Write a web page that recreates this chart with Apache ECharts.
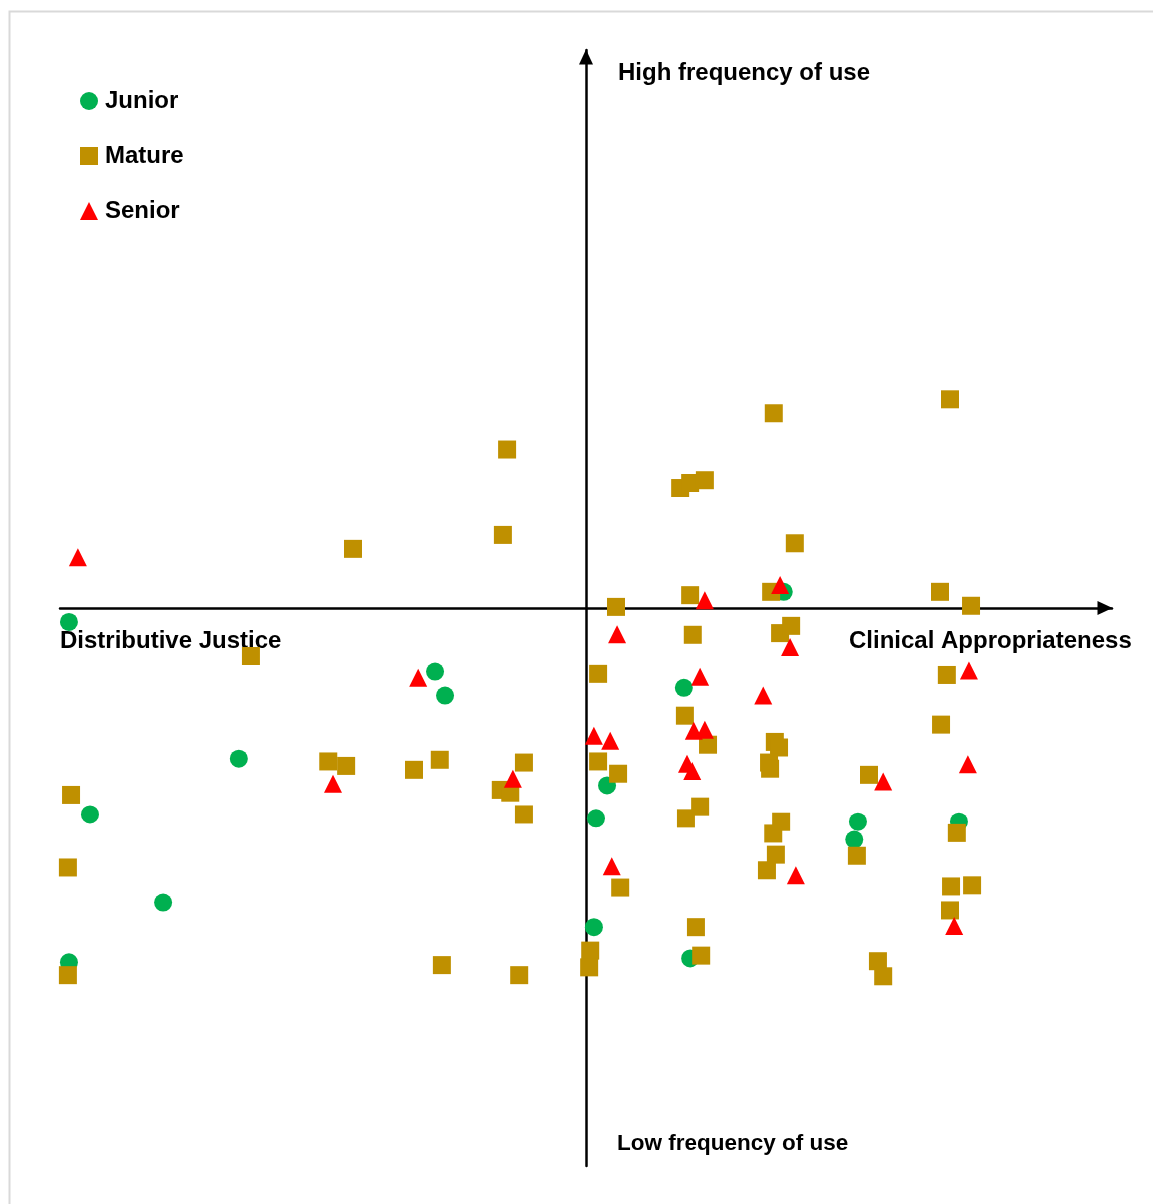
<!DOCTYPE html>
<html>
<head>
<meta charset="utf-8">
<script src="https://cdn.jsdelivr.net/npm/echarts@6/dist/echarts.min.js"></script>
<style>
html,body{margin:0;padding:0;background:#fff;}
#chart{width:1153px;height:1204px;}
</style>
</head>
<body>
<div id="chart"></div>
<script>
// Values in arbitrary units: x = Distributive Justice (-) ... Clinical Appropriateness (+)
// y = Low (-) ... High (+) frequency of use
const seriesNames = ['Junior', 'Mature', 'Senior'];

const juniorPoints = [
  [-98.3, -2.5], [-28.7, -11.4], [-26.8, -15.7], [-66.0, -27.0], [-94.3, -37.0],
  [-80.4, -52.8], [-98.3, -63.5], [37.6, 2.9], [18.6, -14.3], [4.0, -31.8],
  [1.9, -37.7], [1.5, -57.2], [19.8, -62.8], [51.7, -38.3], [51.0, -41.5],
  [70.9, -38.3]
];

const maturePoints = [
  [-15.0, 28.4], [-44.3, 10.6], [-15.8, 13.1], [35.7, 34.9], [69.2, 37.4],
  [17.9, 21.5], [19.8, 22.4], [22.6, 22.9], [39.7, 11.6], [5.7, 0.2],
  [19.8, 2.3], [35.2, 2.9], [67.3, 2.9], [73.2, 0.4], [20.3, -4.8],
  [36.9, -4.5], [39.0, -3.2], [-63.7, -8.6], [2.3, -11.8], [68.6, -12.0],
  [18.8, -19.3], [67.5, -20.9], [23.2, -24.5], [35.9, -24.0], [36.7, -25.0],
  [-49.0, -27.5], [-45.6, -28.3], [-32.7, -29.0], [-27.8, -27.2], [-11.8, -27.7],
  [2.3, -27.5], [6.1, -29.7], [34.8, -27.7], [35.0, -28.8], [53.8, -29.9],
  [-97.9, -33.5], [-16.2, -32.6], [-14.4, -33.1], [-11.8, -37.0], [21.7, -35.6],
  [19.0, -37.7], [37.1, -38.3], [35.6, -40.4], [70.5, -40.3], [36.1, -44.2],
  [51.5, -44.4], [-98.5, -46.5], [34.4, -47.0], [6.5, -50.1], [69.4, -49.9],
  [73.4, -49.7], [69.2, -54.2], [20.9, -57.2], [0.8, -61.4], [0.6, -64.4],
  [21.9, -62.3], [-27.4, -64.0], [-12.7, -65.8], [-98.5, -65.8], [55.5, -63.3],
  [56.5, -66.0]
];

const seniorPoints = [
  [-96.6, 9.1], [36.9, 4.1], [22.6, 1.4], [5.9, -4.7], [38.8, -7.0],
  [-31.9, -12.5], [21.7, -12.3], [72.8, -11.2], [33.7, -15.7], [1.5, -22.9],
  [4.6, -23.8], [20.5, -22.0], [22.6, -21.8], [19.2, -27.9], [20.2, -29.2],
  [-13.9, -30.6], [-48.1, -31.5], [72.6, -28.0], [56.5, -31.1], [4.9, -46.3],
  [39.9, -47.9], [70.0, -57.0]
];

const quadrantLabels = {
  top: 'High frequency of use',
  bottom: 'Low frequency of use',
  left: 'Distributive Justice',
  right: 'Clinical Appropriateness'
};

const FONT = '"Liberation Sans", Arial, sans-serif';
const chart = echarts.init(document.getElementById('chart'), null, {renderer: 'canvas'});

const axisCommon = {
  type: 'value',
  min: -100,
  max: 100,
  axisLine: {
    show: true,
    onZero: true,
    symbol: ['none', 'triangle'],
    symbolSize: [14, 15],
    symbolOffset: [0, -7],
    lineStyle: {color: '#000', width: 2.5}
  },
  axisTick: {show: false},
  axisLabel: {show: false},
  splitLine: {show: false}
};

chart.setOption({
  animation: false,
  backgroundColor: '#fff',
  grid: {left: 60, top: 50, width: 1052, height: 1116},
  xAxis: Object.assign({}, axisCommon),
  yAxis: Object.assign({}, axisCommon),
  legend: {
    orient: 'vertical',
    left: 75,
    top: 84,
    itemWidth: 18,
    itemHeight: 18,
    itemGap: 31,
    selectedMode: false,
    textStyle: {fontFamily: FONT, fontWeight: 'bold', fontSize: 24, color: '#000', lineHeight: 24, padding: [0, 0, 0, 2]},
    data: [
      {name: seriesNames[0], icon: 'circle'},
      {name: seriesNames[1], icon: 'rect'},
      {name: seriesNames[2], icon: 'triangle'}
    ]
  },
  graphic: [
    {type: 'rect', left: 7, top: 9, shape: {width: 1300, height: 1300}, silent: true, z: -10,
      style: {fill: 'none', stroke: '#d9d9d9', lineWidth: 2}},
    {type: 'text', left: 618, top: 61, style: {text: quadrantLabels.top, font: 'bold 24px ' + FONT, fill: '#000'}},
    {type: 'text', left: 849, top: 629, style: {text: quadrantLabels.right, font: 'bold 24px ' + FONT, fill: '#000'}},
    {type: 'text', left: 60, top: 629, style: {text: quadrantLabels.left, font: 'bold 24px ' + FONT, fill: '#000'}},
    {type: 'text', left: 617, top: 1132, style: {text: quadrantLabels.bottom, font: 'bold 22.5px ' + FONT, fill: '#000'}}
  ],
  series: [
    {name: seriesNames[0], type: 'scatter', symbol: 'circle', symbolSize: 18,
      itemStyle: {color: '#00B050', opacity: 1}, data: juniorPoints, z: 2},
    {name: seriesNames[1], type: 'scatter', symbol: 'rect', symbolSize: 18,
      itemStyle: {color: '#BF9000', opacity: 1}, data: maturePoints, z: 3},
    {name: seriesNames[2], type: 'scatter', symbol: 'triangle', symbolSize: 18,
      itemStyle: {color: '#FF0000', opacity: 1}, data: seniorPoints, z: 4}
  ]
});
</script>
</body>
</html>
